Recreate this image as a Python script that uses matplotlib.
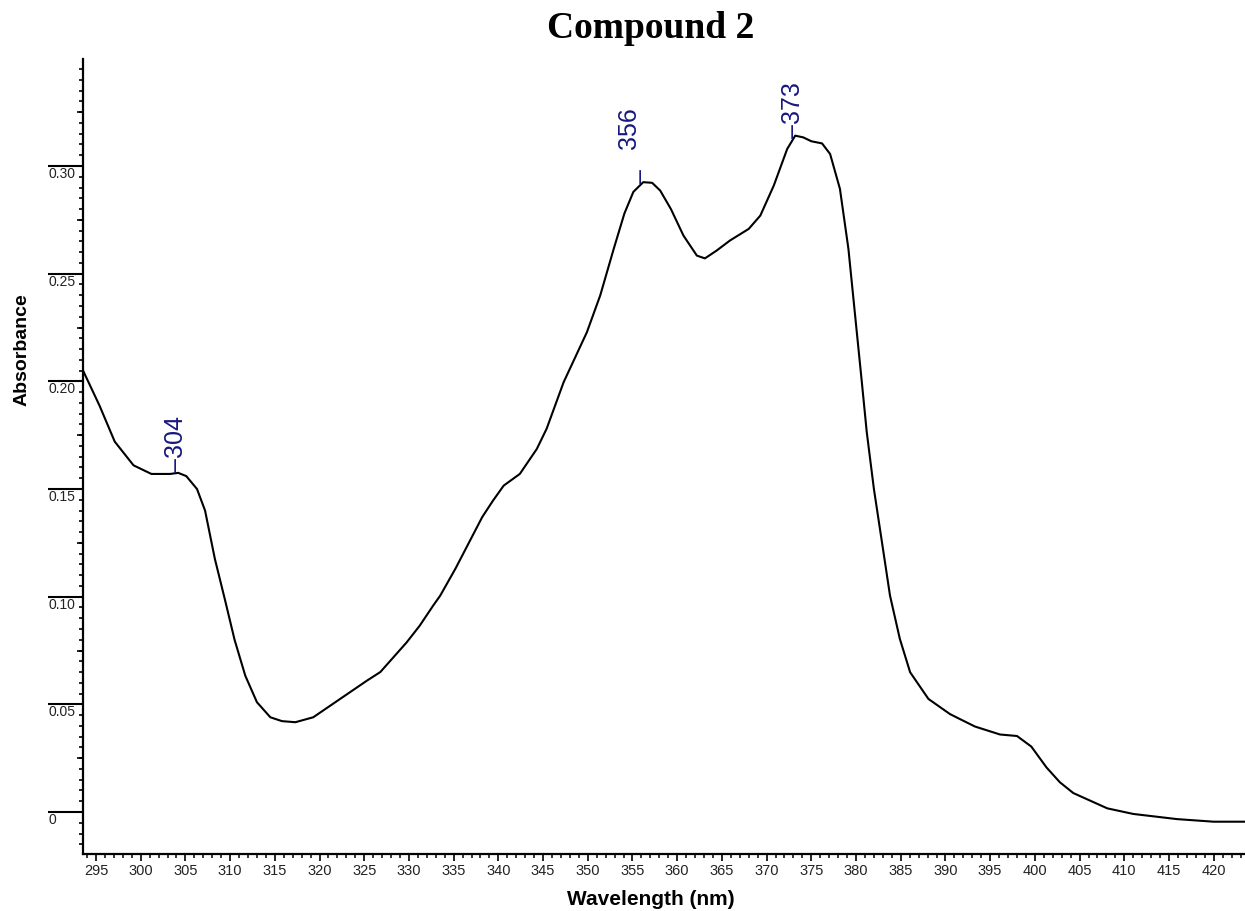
import numpy as np
import matplotlib
matplotlib.use("Agg")
import matplotlib.pyplot as plt
import matplotlib.ticker as mticker

# absorbance spectrum (nm, AU)
wavelength = [
    293.5, 295.4, 297.1, 299.2, 301.2, 303.3, 304.2, 305.1, 306.3, 307.2,
    308.3, 309.4, 310.5, 311.7, 313.0, 314.5, 315.8, 317.3, 319.3, 322.3,
    325.3, 326.8, 329.75, 331.2, 332.7, 333.5, 335.2, 338.2, 339.4,
    340.6, 342.4, 344.3, 345.4, 347.3, 349.9, 351.4, 352.9, 354.1,
    355.1, 356.2, 357.2, 358.1, 359.3, 360.7, 362.2, 363.1, 364.4, 365.9,
    368.0, 369.3, 370.8, 372.3, 373.2, 374.1, 375.0, 376.2, 377.1, 378.2,
    379.15, 379.9, 380.65, 381.2, 382.0, 382.9, 383.8, 384.9, 386.05, 388.1,
    390.5, 391.6, 393.3, 396.1, 398.0, 399.6, 401.3, 402.8, 404.3, 406.6,
    408.1, 411.0, 415.9, 420.0, 423.5,
]
absorbance = [
    0.2055, 0.1887, 0.1720, 0.1610, 0.1570, 0.1570, 0.1575, 0.1560, 0.1500, 0.1400,
    0.1175, 0.0990, 0.0800, 0.0633, 0.0510, 0.0440, 0.0422, 0.0417, 0.0440, 0.0525,
    0.0610, 0.0650, 0.0788, 0.0865, 0.0958, 0.1005, 0.1130, 0.1370, 0.1446,
    0.1516, 0.1570, 0.1686, 0.1780, 0.1996, 0.2228, 0.2400, 0.2615, 0.2780,
    0.2880, 0.2925, 0.2922, 0.2886, 0.2800, 0.2677, 0.2584, 0.2571, 0.2607, 0.2654,
    0.2708, 0.2770, 0.2909, 0.3079, 0.3141, 0.3133, 0.3115, 0.3105, 0.3056, 0.2894,
    0.2615, 0.2305, 0.1996, 0.1764, 0.1500, 0.1253, 0.1005, 0.0804, 0.0649, 0.0525,
    0.0455, 0.0432, 0.0397, 0.0360, 0.0353, 0.0304, 0.0207, 0.0138, 0.0088, 0.0045,
    0.0017, -0.0009, -0.0033, -0.0045, -0.0045,
]

peak_nm = [304, 356, 373]

y_major = [0.0, 0.05, 0.10, 0.15, 0.20, 0.25, 0.30]
y_major_labels = ["0", "0.05", "0.10", "0.15", "0.20", "0.25", "0.30"]
y_mid = [0.025, 0.075, 0.125, 0.175, 0.225, 0.275, 0.325]

PEAK_COLOR = "#17177f"
SANS = "Liberation Sans"

fig = plt.figure(figsize=(12.45, 9.12), dpi=100)
ax = fig.add_axes([83 / 1245, 57 / 912, 1 - 83 / 1245, 795 / 912])

ax.plot(wavelength, absorbance, color="black", lw=1.5, solid_joinstyle="round")

ax.set_xlim(293.55, 423.5)
ax.set_ylim(-0.0195, 0.3497)

for side in ("top", "right"):
    ax.spines[side].set_visible(False)
for side in ("left", "bottom"):
    ax.spines[side].set_linewidth(1.6)

# x axis: labelled every 5 nm, small ticks every 1 nm
ax.xaxis.set_major_locator(mticker.MultipleLocator(5))
ax.xaxis.set_minor_locator(mticker.MultipleLocator(1))
ax.xaxis.set_major_formatter(mticker.FormatStrFormatter("%d"))
ax.tick_params(axis="x", which="major", direction="out", length=4.8, width=1.2,
               pad=1.5, labelsize=10.5)
ax.tick_params(axis="x", which="minor", direction="out", length=2.8, width=1.1)

# y axis: long ticks at 0.05 with labels hanging below-left of them
ax.set_yticks(y_major)
ax.set_yticklabels(y_major_labels)
ax.yaxis.set_minor_locator(mticker.MultipleLocator(0.005))
ax.tick_params(axis="y", which="major", direction="out", length=25, width=1.5,
               pad=-0.5, labelsize=10)
ax.tick_params(axis="y", which="minor", direction="out", length=2.6, width=1.2)
plt.setp(ax.get_yticklabels(), ha="left", va="top")

sec = ax.secondary_yaxis("left")
sec.set_yticks(y_mid)
sec.yaxis.set_major_formatter(mticker.NullFormatter())
sec.tick_params(axis="y", direction="out", length=4.5, width=1.2)
sec.spines["left"].set_visible(False)

for lbl in ax.get_xticklabels() + ax.get_yticklabels():
    lbl.set_fontfamily(SANS)
    lbl.set_color("#222222")

# peak markers
peak_abs = np.interp(peak_nm, wavelength, absorbance)
for nm, a in zip(peak_nm, peak_abs):
    if nm == 356:
        ax.annotate("\u2013", xy=(nm, a), xytext=(0, 1.5), textcoords="offset points",
                    rotation=90, ha="center", va="bottom", fontsize=18,
                    color=PEAK_COLOR, family=SANS)
        ax.annotate(f"{nm}", xy=(nm, a), xytext=(-9, 26), textcoords="offset points",
                    rotation=90, ha="center", va="bottom", fontsize=18,
                    color=PEAK_COLOR, family=SANS)
    else:
        ax.annotate(f"\u2013{nm}", xy=(nm, a), xytext=(-0.5, 1.5),
                    textcoords="offset points", rotation=90, ha="center",
                    va="bottom", fontsize=18, color=PEAK_COLOR, family=SANS)

fig.text(651 / 1245, 1 - 29 / 912, "Compound 2", ha="center", va="center",
         fontsize=27, fontweight="bold", family="Liberation Serif")
fig.text(651 / 1245, 1 - 900 / 912, "Wavelength (nm)", ha="center", va="center",
         fontsize=15, fontweight="bold", family=SANS)
fig.text(22 / 1245, 1 - 350 / 912, "Absorbance", ha="center", va="center",
         rotation=90, fontsize=14, fontweight="bold", family=SANS)

fig.savefig("out.png", dpi=100)
